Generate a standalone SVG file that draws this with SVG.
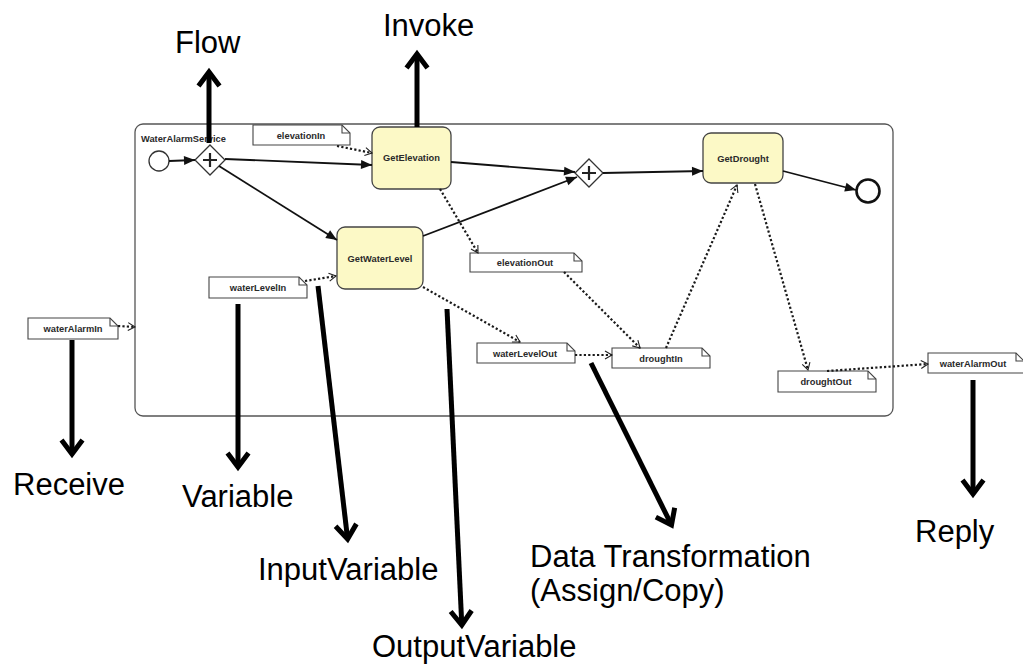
<svg xmlns="http://www.w3.org/2000/svg" width="1023" height="665" viewBox="0 0 1023 665">
  <style>
    .container { fill: #ffffff; stroke: #555555; stroke-width: 1.3; }
    .task { fill: #fcf9c6; stroke: #444444; stroke-width: 1.3; }
    .note { fill: #ffffff; stroke: #444444; stroke-width: 1.1; }
    .fold { fill: none; stroke: #444444; stroke-width: 1.1; }
    .gw { fill: #ffffff; stroke: #333333; stroke-width: 1.3; }
    .plus { fill: none; stroke: #222222; stroke-width: 2.2; }
    .small { font-family: "Liberation Sans", Arial, sans-serif; font-size: 9.3px; font-weight: bold; fill: #2a2a2a; }
    .big { font-family: "Liberation Sans", Arial, sans-serif; font-size: 31px; fill: #000000; }
    .seq { fill: none; stroke: #111111; stroke-width: 1.8; marker-end: url(#solidHead); }
    .data { fill: none; stroke: #1a1a1a; stroke-width: 2.2; stroke-dasharray: 2.2 2.2; marker-end: url(#openHead); }
    .callout { fill: none; stroke: #000000; stroke-width: 5; marker-end: url(#chevron); }
  </style>
  <defs>
    <marker id="solidHead" markerUnits="userSpaceOnUse" markerWidth="14" markerHeight="12" viewBox="-12 -6 14 12" refX="0" refY="0" orient="auto">
      <path d="M-11,-4.5 L0,0 L-11,4.5 Z" fill="#111111"/>
    </marker>
    <marker id="openHead" markerUnits="userSpaceOnUse" markerWidth="12" markerHeight="12" viewBox="-10 -6 12 12" refX="0" refY="0" orient="auto">
      <path d="M-7,-4 L0,0 L-7,4" fill="none" stroke="#222222" stroke-width="1.1"/>
    </marker>
    <marker id="chevron" markerUnits="userSpaceOnUse" markerWidth="30" markerHeight="30" viewBox="-20 -15 30 30" refX="0" refY="0" orient="auto">
      <path d="M-14,-10.5 L0,0 L-14,10.5" fill="none" stroke="#000000" stroke-width="5" stroke-linejoin="miter"/>
    </marker>
  </defs>

  <rect x="0" y="0" width="1023" height="665" fill="#ffffff"/>

  <!-- process container -->
  <g id="WaterAlarmService">
    <rect class="container" x="135" y="124" width="758" height="292" rx="8"/>
    <text class="small" x="141" y="142">WaterAlarmService</text>
  </g>

  <!-- events and gateways -->
  <g id="start">
    <circle cx="159" cy="161" r="10" fill="#ffffff" stroke="#333333" stroke-width="1.3"/>
  </g>
  <g id="end">
    <circle cx="868" cy="191" r="11.5" fill="#ffffff" stroke="#111111" stroke-width="2.6"/>
  </g>
  <g id="fork">
    <path class="gw" d="M210,145 L225,160 L210,175 L195,160 Z"/>
    <path class="plus" d="M210,153 V167 M203,160 H217"/>
  </g>
  <g id="join">
    <path class="gw" d="M589,159 L603,173 L589,187 L575,173 Z"/>
    <path class="plus" d="M589,166 V180 M582,173 H596"/>
  </g>

  <!-- tasks -->
  <g id="GetElevation">
    <rect class="task" x="372" y="127" width="79" height="62" rx="8"/>
    <text class="small" x="411.5" y="161" text-anchor="middle">GetElevation</text>
  </g>
  <g id="GetWaterLevel">
    <rect class="task" x="337" y="227" width="86" height="62" rx="8"/>
    <text class="small" x="380" y="262" text-anchor="middle">GetWaterLevel</text>
  </g>
  <g id="GetDrought">
    <rect class="task" x="703" y="133" width="80" height="50" rx="8"/>
    <text class="small" x="743" y="162" text-anchor="middle">GetDrought</text>
  </g>

  <!-- variables -->
  <g id="elevationIn">
    <path class="note" d="M253,125 H342 L350,133 V145 H253 Z"/>
    <path class="fold" d="M342,125 V133 H350"/>
    <text class="small" x="301" y="138.5" text-anchor="middle">elevationIn</text>
  </g>
  <g id="waterLevelIn">
    <path class="note" d="M209,277 H299 L307,285 V298 H209 Z"/>
    <path class="fold" d="M299,277 V285 H307"/>
    <text class="small" x="258" y="291" text-anchor="middle">waterLevelIn</text>
  </g>
  <g id="waterAlarmIn">
    <path class="note" d="M28,318 H110 L118,326 V339 H28 Z"/>
    <path class="fold" d="M110,318 V326 H118"/>
    <text class="small" x="73" y="332" text-anchor="middle">waterAlarmIn</text>
  </g>
  <g id="elevationOut">
    <path class="note" d="M470,253 H574 L582,261 V272 H470 Z"/>
    <path class="fold" d="M574,253 V261 H582"/>
    <text class="small" x="525" y="266" text-anchor="middle">elevationOut</text>
  </g>
  <g id="waterLevelOut">
    <path class="note" d="M477,343 H567 L575,351 V363 H477 Z"/>
    <path class="fold" d="M567,343 V351 H575"/>
    <text class="small" x="525" y="357" text-anchor="middle">waterLevelOut</text>
  </g>
  <g id="droughtIn">
    <path class="note" d="M612,348 H702 L710,356 V368 H612 Z"/>
    <path class="fold" d="M702,348 V356 H710"/>
    <text class="small" x="661" y="362" text-anchor="middle">droughtIn</text>
  </g>
  <g id="droughtOut">
    <path class="note" d="M778,371 H868 L876,379 V392 H778 Z"/>
    <path class="fold" d="M868,371 V379 H876"/>
    <text class="small" x="826" y="385" text-anchor="middle">droughtOut</text>
  </g>
  <g id="waterAlarmOut">
    <path class="note" d="M928,353 H1016 L1024,361 V373 H928 Z"/>
    <path class="fold" d="M1016,353 V361 H1024"/>
    <text class="small" x="973" y="366.5" text-anchor="middle">waterAlarmOut</text>
  </g>

  <!-- connectors -->
  <g id="connectors">
    <!-- sequence flows -->
    <path class="seq" d="M169,161 L195,160"/>
    <path class="seq" d="M225,159 L372,165"/>
    <path class="seq" d="M219,166 L337,240"/>
    <path class="seq" d="M451,162 L575,172"/>
    <path class="seq" d="M423,236 L577,177"/>
    <path class="seq" d="M603,173 L703,171"/>
    <path class="seq" d="M783,171 L856,190"/>
    <!-- data associations -->
    <path class="data" d="M118,326 L135,327"/>
    <path class="data" d="M337,146 L372,153"/>
    <path class="data" d="M305,281 L336,276"/>
    <path class="data" d="M440,189 L478,253"/>
    <path class="data" d="M423,287 L520,342"/>
    <path class="data" d="M564,272 L640,348"/>
    <path class="data" d="M575,355 L612,355"/>
    <path class="data" d="M666,348 L737,185"/>
    <path class="data" d="M755,184 L808,370"/>
    <path class="data" d="M827,371 L928,364"/>
  </g>

  <!-- callout arrows -->
  <g id="callouts">
    <path class="callout" d="M209,143 L209,72"/>
    <path class="callout" d="M417,127 L417,54"/>
    <path class="callout" d="M72,340 L72,454"/>
    <path class="callout" d="M238,304 L238,467"/>
    <path class="callout" d="M318,286 L347.6,539"/>
    <path class="callout" d="M447,309 L461.8,625"/>
    <path class="callout" d="M591,363 L671.5,525"/>
    <path class="callout" d="M973,380 L973,494"/>
  </g>

  <!-- callout labels -->
  <g id="labels">
    <text class="big" x="175" y="53">Flow</text>
    <text class="big" x="383" y="36">Invoke</text>
    <text class="big" x="13" y="495">Receive</text>
    <text class="big" x="182" y="507">Variable</text>
    <text class="big" x="258" y="580">InputVariable</text>
    <text class="big" x="372" y="657">OutputVariable</text>
    <text class="big" x="530" y="567">Data Transformation</text>
    <text class="big" x="530" y="601">(Assign/Copy)</text>
    <text class="big" x="915" y="542">Reply</text>
  </g>
</svg>
